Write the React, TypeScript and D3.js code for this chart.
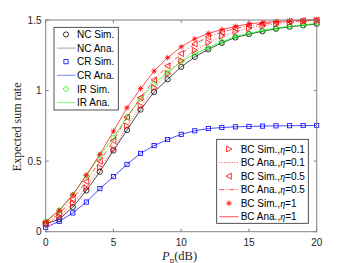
import React from "react";
import * as d3 from "d3";

// transmit power Pp in dB
const powers = [0, 1, 2, 3, 4, 5, 6, 7, 8, 9, 10, 11, 12, 13, 14, 15, 16, 17, 18, 19, 20];

const ncRate = [0.055, 0.088, 0.175, 0.292, 0.425, 0.575, 0.72, 0.865, 0.99, 1.08, 1.168, 1.238, 1.292, 1.338, 1.376, 1.4, 1.42, 1.438, 1.452, 1.462, 1.472];
const crRate = [0.03, 0.074, 0.133, 0.21, 0.305, 0.39, 0.477, 0.555, 0.61, 0.653, 0.69, 0.715, 0.731, 0.738, 0.743, 0.746, 0.748, 0.75, 0.751, 0.752, 0.753];
const irRate = [0.072, 0.148, 0.26, 0.398, 0.54, 0.665, 0.815, 0.94, 1.05, 1.13, 1.205, 1.26, 1.305, 1.345, 1.382, 1.405, 1.425, 1.442, 1.456, 1.465, 1.476];
const bc01Rate = [0.052, 0.108, 0.2, 0.31, 0.455, 0.585, 0.75, 0.89, 1.02, 1.12, 1.212, 1.285, 1.34, 1.385, 1.418, 1.442, 1.46, 1.473, 1.483, 1.49, 1.496];
const bc05Rate = [0.062, 0.127, 0.232, 0.355, 0.5, 0.645, 0.81, 0.95, 1.075, 1.175, 1.262, 1.33, 1.38, 1.415, 1.44, 1.459, 1.472, 1.482, 1.49, 1.495, 1.499];
const bc1Rate = [0.072, 0.152, 0.262, 0.4, 0.548, 0.712, 0.878, 1.014, 1.138, 1.233, 1.31, 1.366, 1.405, 1.432, 1.455, 1.472, 1.482, 1.49, 1.495, 1.499, 1.503];

const xTicks = [0, 5, 10, 15, 20];
const yTicks = [0, 0.5, 1, 1.5];

const legendLeft = ["NC Sim.", "NC Ana.", "CR Sim.", "CR Ana.", "IR Sim.", "IR Ana."];
const legendRight = [
  ["BC Sim.,", "=0.1"],
  ["BC Ana.,", "=0.1"],
  ["BC Sim.,", "=0.5"],
  ["BC Ana.,", "=0.5"],
  ["BC Sim.,", "=1"],
  ["BC Ana.,", "=1"],
];

const W = 350;
const H = 263;
const left = 45.7;
const right = 316.7;
const top = 20;
const bottom = 231.7;

type Shape = "circle" | "square" | "diamond" | "triR" | "triL" | "star";

function Marker({ shape, x, y, color }: { shape: Shape; x: number; y: number; color: string }) {
  const sw = 0.8;
  if (shape === "circle") return <circle cx={x} cy={y} r={2.6} fill="none" stroke={color} strokeWidth={sw} />;
  if (shape === "square") return <rect x={x - 2.1} y={y - 2.1} width={4.2} height={4.2} fill="none" stroke={color} strokeWidth={sw} />;
  if (shape === "diamond") {
    const s = 3;
    return <path d={`M${x},${y - s}L${x + s},${y}L${x},${y + s}L${x - s},${y}Z`} fill="none" stroke={color} strokeWidth={sw} />;
  }
  if (shape === "triR") {
    const s = 3;
    return <path d={`M${x + s},${y}L${x - s * 0.8},${y - s}L${x - s * 0.8},${y + s}Z`} fill="none" stroke={color} strokeWidth={sw} />;
  }
  if (shape === "triL") {
    const s = 3;
    return <path d={`M${x - s},${y}L${x + s * 0.8},${y - s}L${x + s * 0.8},${y + s}Z`} fill="none" stroke={color} strokeWidth={sw} />;
  }
  const s = 2.8;
  const d = s * 0.707;
  return (
    <path
      d={`M${x - s},${y}L${x + s},${y}M${x},${y - s}L${x},${y + s}M${x - d},${y - d}L${x + d},${y + d}M${x - d},${y + d}L${x + d},${y - d}`}
      stroke={color}
      strokeWidth={sw}
    />
  );
}

const App: React.FC = () => {
  const x = d3.scaleLinear().domain([0, 20]).range([left, right]);
  const y = d3.scaleLinear().domain([0, 1.5]).range([bottom, top]);

  const line = d3
    .line<number>()
    .x((_, i) => x(powers[i]))
    .y((d) => y(d));

  const series: { data: number[]; color: string; shape: Shape; dash?: string }[] = [
    { data: ncRate, color: "#000000", shape: "circle" },
    { data: crRate, color: "#0000ff", shape: "square" },
    { data: irRate, color: "#00ff00", shape: "diamond" },
    { data: bc01Rate, color: "#ff0000", shape: "triR", dash: "1,1.5" },
    { data: bc05Rate, color: "#ff0000", shape: "triL", dash: "5,2,1,2" },
    { data: bc1Rate, color: "#ff0000", shape: "star" },
  ];

  const axisColor = "#808080";
  const font = "'Liberation Sans', Arial, sans-serif";
  const serif = "'Liberation Serif', 'Times New Roman', serif";

  return (
    <svg width={W} height={H} style={{ position: "absolute", left: 0, top: 0, background: "#fff" }}>
      <rect x={0} y={0} width={W} height={H} fill="#fff" />

      {series.map((s, k) => (
        <g key={k}>
          <path d={line(s.data) as string} fill="none" stroke={s.color} strokeWidth={0.7} strokeDasharray={s.dash} />
          {s.data.map((v, i) => (
            <Marker key={i} shape={s.shape} x={x(powers[i])} y={y(v)} color={s.color} />
          ))}
        </g>
      ))}

      {/* axes box */}
      <rect x={left} y={top} width={right - left} height={bottom - top} fill="none" stroke={axisColor} strokeWidth={1} />
      {xTicks.map((t) => (
        <g key={"x" + t}>
          <line x1={x(t)} x2={x(t)} y1={bottom} y2={bottom - 3} stroke={axisColor} />
          <line x1={x(t)} x2={x(t)} y1={top} y2={top + 3} stroke={axisColor} />
          <text x={x(t)} y={246} textAnchor="middle" fontFamily={font} fontSize={10} fill="#262626">
            {t}
          </text>
        </g>
      ))}
      {yTicks.map((t) => (
        <g key={"y" + t}>
          <line x1={left} x2={left + 3} y1={y(t)} y2={y(t)} stroke={axisColor} />
          <line x1={right} x2={right - 3} y1={y(t)} y2={y(t)} stroke={axisColor} />
          <text x={41.5} y={y(t) + 3.5} textAnchor="end" fontFamily={font} fontSize={10} fill="#262626">
            {t}
          </text>
        </g>
      ))}

      <text x={162} y={260} fontFamily={serif} fontSize={12.5} fill="#262626">
        <tspan fontStyle="italic">P</tspan>
        <tspan fontSize={9} dy={2.5}>p</tspan>
        <tspan dy={-2.5}>(dB)</tspan>
      </text>
      <text
        transform={`translate(21,${(top + bottom) / 2 + 1}) rotate(-90)`}
        textAnchor="middle"
        fontFamily={serif}
        fontSize={12}
        fill="#262626"
      >
        Expected sum rate
      </text>

      {/* left legend */}
      <rect x={54} y={27.3} width={64.3} height={82.7} fill="#fff" stroke="#262626" strokeWidth={0.8} />
      {legendLeft.map((label, i) => {
        const ly = 34.5 + i * 13.6;
        const s = series[Math.floor(i / 2)];
        return (
          <g key={label}>
            {i % 2 === 0 ? (
              <Marker shape={s.shape} x={66} y={ly} color={s.color} />
            ) : (
              <line x1={57} x2={75.5} y1={ly} y2={ly} stroke={s.color === "#000000" ? "#8c8c8c" : s.color} strokeWidth={0.8} opacity={s.color === "#000000" ? 1 : 0.6} />
            )}
            <text x={77} y={ly + 3.6} fontFamily={font} fontSize={10} fill="#000">
              {label}
            </text>
          </g>
        );
      })}

      {/* right legend */}
      <rect x={216.7} y={139.3} width={91.6} height={84} fill="#fff" stroke="#262626" strokeWidth={0.8} />
      {legendRight.map((lab, i) => {
        const ly = 149 + i * 13.55;
        const s = series[3 + Math.floor(i / 2)];
        return (
          <g key={i}>
            {i % 2 === 0 ? (
              <Marker shape={s.shape} x={229} y={ly} color={s.color} />
            ) : (
              <line x1={219.3} x2={238.3} y1={ly} y2={ly} stroke={s.color} strokeWidth={0.7} strokeDasharray={s.dash} />
            )}
            <text x={240.7} y={ly + 3.6} fontFamily={font} fontSize={10} fill="#000">
              {lab[0]}
              <tspan fontFamily={serif} fontStyle="italic" fontSize={10}>
                η
              </tspan>
              {lab[1]}
            </text>
          </g>
        );
      })}
    </svg>
  );
};

export default App;
